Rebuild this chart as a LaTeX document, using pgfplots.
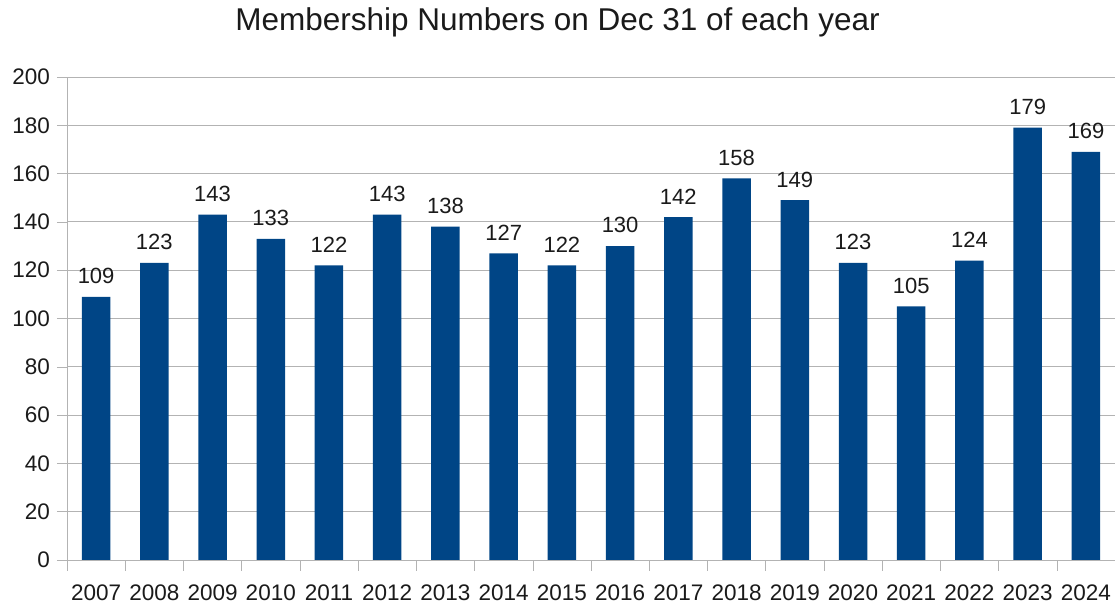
\documentclass[border=0pt]{standalone}
\usepackage{fontspec}
\setmainfont{Liberation Sans}
\usepackage{pgfplots}
\pgfplotsset{compat=1.18}

\definecolor{barblue}{HTML}{004586}
\definecolor{gridgray}{HTML}{B3B3B3}
\definecolor{txt}{HTML}{1A1A1A}

\begin{document}
\begin{tikzpicture}
\useasboundingbox (-33.5pt,-22.5pt) rectangle (524pt,280pt);
\begin{axis}[
    at={(0,0)}, anchor=south west,
    scale only axis, width=524pt, height=241.5pt,
    ybar, bar width=14.25pt,
    xmin=-0.5, xmax=17.5,
    ymin=0, ymax=200,
    ytick={0,20,...,200},
    xtick={0,...,17},
    xticklabels={2007,2008,2009,2010,2011,2012,2013,2014,2015,2016,2017,2018,2019,2020,2021,2022,2023,2024},
    minor xtick={-0.5,0.5,...,17.5},
    major x tick style={draw=none},
    axis x line*=bottom, axis y line*=left,
    axis line style={draw=gridgray, -},
    tick style={draw=gridgray},
    tick align=outside,
    major tick length=5pt, minor tick length=5.5pt,
    ymajorgrids, grid style={draw=gridgray},
    /pgf/number format/assume math mode=true,
    ticklabel style={font=\fontsize{11.25}{13}\selectfont, text=txt},
    xticklabel style={yshift=-4pt},
    nodes near coords,
    every node near coord/.append style={font=\fontsize{11}{13}\selectfont, text=txt, anchor=south, inner sep=0pt, yshift=6.25pt},
]
\addplot[fill=barblue, draw=none] coordinates {
    (0,109) (1,123) (2,143) (3,133) (4,122) (5,143) (6,138) (7,127) (8,122)
    (9,130) (10,142) (11,158) (12,149) (13,123) (14,105) (15,124) (16,179) (17,169)
};
\end{axis}
\node[font=\fontsize{15.75}{18}\selectfont, text=txt] at (245.25pt,269pt) {Membership Numbers on Dec 31 of each year};
\end{tikzpicture}
\end{document}
